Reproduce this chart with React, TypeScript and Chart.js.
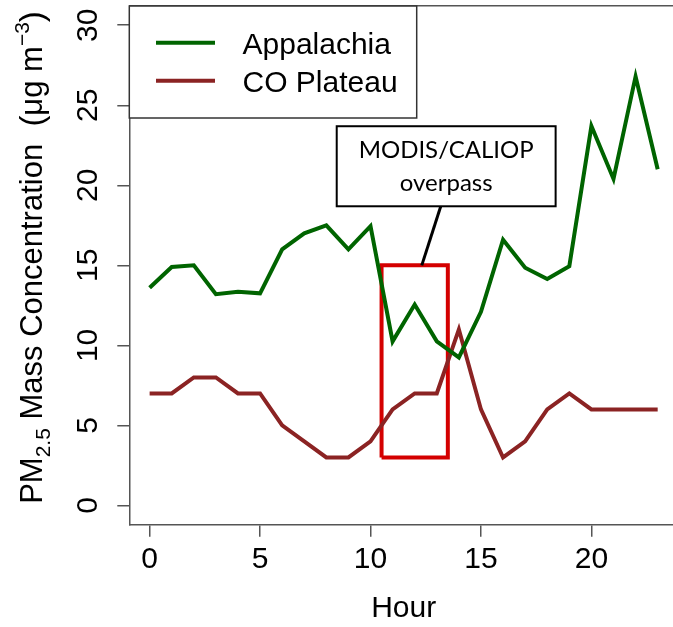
import React, { useEffect, useRef } from "react";
import { Chart, registerables } from "chart.js";

Chart.register(...registerables);

// ---- data ----
const hours = [0, 1, 2, 3, 4, 5, 6, 7, 8, 9, 10, 11, 12, 13, 14, 15, 16, 17, 18, 19, 20, 21, 22, 23];
const appalachia = [13.6, 14.9, 15.0, 13.2, 13.35, 13.25, 16.0, 17.0, 17.5, 16.0, 17.45, 10.25, 12.55, 10.25, 9.25, 12.1, 16.6, 14.85, 14.15, 14.95, 23.7, 20.4, 26.8, 21.0];
const coPlateau = [7, 7, 8, 8, 7, 7, 5, 4, 3, 3, 4, 6, 7, 7, 11, 6, 3, 4, 6, 7, 6, 6, 6, 6];
const seriesNames = ["Appalachia", "CO Plateau"];
const xTicks = [0, 5, 10, 15, 20];
const yTicks = [0, 5, 10, 15, 20, 25, 30];
const overpassHours = [10.5, 13.5];
const overpassRange = [3, 15];
const calloutLines = ["MODIS/CALIOP", "overpass"];
const xTitle = "Hour";

const FONT = "'Liberation Sans', Arial, sans-serif";
const GREEN = "#006400";
const BROWN = "#8B2323";
const RED = "#D40000";
const AXIS = "#555555";

function zeroPad(s: any) {
  s.paddingTop = 0;
  s.paddingBottom = 0;
  s.paddingLeft = 0;
  s.paddingRight = 0;
}

export default function App() {
  const ref = useRef<HTMLCanvasElement | null>(null);

  useEffect(() => {
    const canvas = ref.current;
    if (!canvas) return;

    const overlay = {
      id: "overlay",
      afterDatasetsDraw(chart: any) {
        const ctx = chart.ctx as CanvasRenderingContext2D;
        const xs = chart.scales.x;
        const ys = chart.scales.y;
        const ca = chart.chartArea;
        ctx.save();

        // callout connector
        ctx.strokeStyle = "#000";
        ctx.lineWidth = 3;
        ctx.lineCap = "butt";
        ctx.beginPath();
        ctx.moveTo(xs.getPixelForValue(13.18), ys.getPixelForValue(18.69));
        ctx.lineTo(xs.getPixelForValue(12.32), ys.getPixelForValue(15));
        ctx.stroke();

        // callout box
        const bx0 = xs.getPixelForValue(8.47);
        const bx1 = xs.getPixelForValue(18.38);
        const by0 = ys.getPixelForValue(23.69);
        const by1 = ys.getPixelForValue(18.69);
        ctx.fillStyle = "#fff";
        ctx.fillRect(bx0, by0, bx1 - bx0, by1 - by0);
        ctx.lineWidth = 2;
        ctx.strokeRect(bx0, by0, bx1 - bx0, by1 - by0);
        ctx.fillStyle = "#000";
        ctx.font = "24px Lato";
        ctx.textAlign = "center";
        ctx.textBaseline = "alphabetic";
        const cx = (bx0 + bx1) / 2;
        ctx.fillText(calloutLines[0], cx, by0 + 32);
        ctx.fillText(calloutLines[1], cx, by0 + 65);

        // legend
        const lx = ca.left;
        const ly = ca.top;
        ctx.fillStyle = "#fff";
        ctx.fillRect(lx, ly, 287.4, 112);
        ctx.strokeStyle = "#333";
        ctx.lineWidth = 1.5;
        ctx.strokeRect(lx, ly, 287.4, 112);
        const rows = [36.7, 74.7];
        chart.data.datasets.slice(0, 2).forEach((ds: any, i: number) => {
          ctx.strokeStyle = ds.borderColor;
          ctx.lineWidth = 4;
          ctx.beginPath();
          ctx.moveTo(lx + 26.7, ly + rows[i]);
          ctx.lineTo(lx + 85.7, ly + rows[i]);
          ctx.stroke();
          ctx.fillStyle = "#000";
          ctx.font = `30px ${FONT}`;
          ctx.textAlign = "left";
          ctx.textBaseline = "alphabetic";
          ctx.fillText(ds.label, lx + 113.2, ly + rows[i] + 11);
        });
        ctx.restore();
      },
      afterDraw(chart: any) {
        // y axis title with subscript / superscript
        const ctx = chart.ctx as CanvasRenderingContext2D;
        const segs: [string, number, number][] = [
          ["PM", 31, 0],
          ["2.5", 21, 8],
          [" Mass Concentration  ", 31, 0],
          ["(", 33, 1],
          ["\u03bcg m", 31, 0],
          ["\u22123", 21, -13],
          [")", 33, 1],
        ];
        ctx.save();
        let total = 0;
        const widths = segs.map(([t, s]) => {
          ctx.font = `${s}px ${FONT}`;
          const w = ctx.measureText(t).width;
          total += w;
          return w;
        });
        ctx.translate(42, 257.5);
        ctx.rotate(-Math.PI / 2);
        ctx.fillStyle = "#000";
        ctx.textAlign = "left";
        ctx.textBaseline = "alphabetic";
        let x = -total / 2;
        segs.forEach(([t, s, dy], i) => {
          ctx.font = `${s}px ${FONT}`;
          ctx.fillText(t, x, dy);
          x += widths[i];
        });
        ctx.restore();
      },
    };

    const chart = new Chart(canvas, {
      type: "line",
      data: {
        datasets: [
          {
            label: seriesNames[0],
            data: hours.map((h, i) => ({ x: h, y: appalachia[i] })),
            borderColor: GREEN,
            borderWidth: 4,
            pointRadius: 0,
            fill: false,
            tension: 0,
          },
          {
            label: seriesNames[1],
            data: hours.map((h, i) => ({ x: h, y: coPlateau[i] })),
            borderColor: BROWN,
            borderWidth: 4,
            pointRadius: 0,
            fill: false,
            tension: 0,
          },
          {
            label: "overpass",
            data: [
              { x: overpassHours[0], y: overpassRange[0] },
              { x: overpassHours[0], y: overpassRange[1] },
              { x: overpassHours[1], y: overpassRange[1] },
              { x: overpassHours[1], y: overpassRange[0] },
              { x: overpassHours[0], y: overpassRange[0] },
            ],
            borderColor: RED,
            borderWidth: 4,
            pointRadius: 0,
            fill: false,
            tension: 0,
            borderJoinStyle: "miter",
          } as any,
        ],
      },
      options: {
        animation: false,
        responsive: false,
        devicePixelRatio: 1,
        layout: { padding: { top: 6, right: 2, left: 0, bottom: 0 } },
        plugins: { legend: { display: false }, tooltip: { enabled: false } },
        scales: {
          x: {
            type: "linear",
            position: "bottom",
            min: -0.92,
            max: 23.92,
            afterBuildTicks: (s: any) => {
              s.ticks = xTicks.map((v) => ({ value: v }));
            },
            afterFit: (s: any) => {
              s.height = 102.3;
              zeroPad(s);
            },
            ticks: {
              autoSkip: false,
              maxRotation: 0,
              minRotation: 0,
              padding: 5,
              color: "#000",
              font: { family: FONT, size: 30 },
            },
            grid: {
              drawOnChartArea: false,
              drawTicks: true,
              tickLength: 12,
              color: AXIS,
              lineWidth: 1.5,
            },
            border: { display: true, color: AXIS, width: 1.5 },
            title: {
              display: true,
              text: xTitle,
              color: "#000",
              font: { family: FONT, size: 30 },
              padding: { top: 0, bottom: 0 },
            },
          },
          x2: {
            type: "linear",
            position: "top",
            min: -0.92,
            max: 23.92,
            afterFit: (s: any) => {
              s.height = 0;
              zeroPad(s);
            },
            ticks: { display: false },
            grid: { display: false, drawTicks: false },
            border: { display: true, color: AXIS, width: 1.5 },
          },
          y: {
            type: "linear",
            position: "left",
            min: -1.2,
            max: 31.2,
            afterBuildTicks: (s: any) => {
              s.ticks = yTicks.map((v) => ({ value: v }));
            },
            afterFit: (s: any) => {
              s.width = 129.3;
              zeroPad(s);
            },
            ticks: {
              autoSkip: false,
              minRotation: 90,
              maxRotation: 90,
              crossAlign: "center",
              padding: 12,
              color: "#000",
              font: { family: FONT, size: 30 },
            },
            grid: {
              drawOnChartArea: false,
              drawTicks: true,
              tickLength: 12,
              color: AXIS,
              lineWidth: 1.5,
            },
            border: { display: true, color: AXIS, width: 1.5 },
          },
        },
      } as any,
      plugins: [overlay],
    });

    return () => chart.destroy();
  }, []);

  return (
    <div
      style={{
        position: "fixed",
        left: 0,
        top: 0,
        width: 673,
        height: 627,
        overflow: "hidden",
        background: "#fff",
      }}
    >
      <canvas ref={ref} width={680} height={627} style={{ width: 680, height: 627, display: "block" }} />
    </div>
  );
}
